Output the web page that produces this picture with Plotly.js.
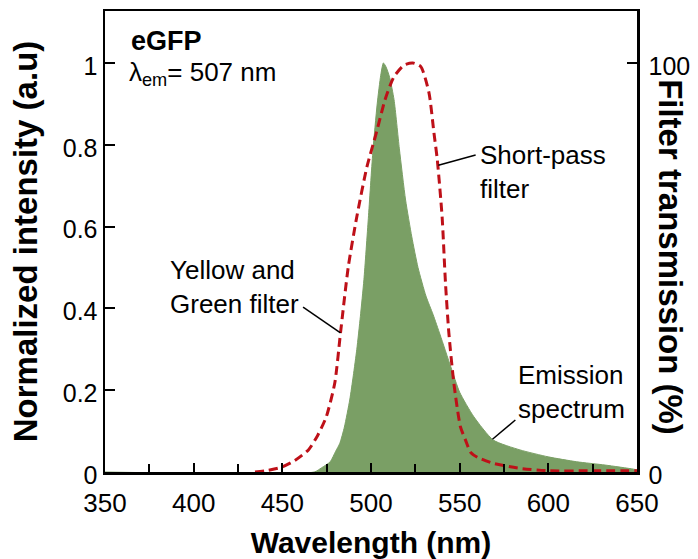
<!DOCTYPE html>
<html>
<head>
<meta charset="utf-8">
<script src="https://cdn.plot.ly/plotly-3.0.1.min.js"></script>
<style>
  html, body { margin: 0; padding: 0; background: #ffffff; }
  #chart { width: 698px; height: 559px; }
</style>
</head>
<body>
<div id="chart"></div>
<script>
// eGFP emission spectrum (normalized) and combined filter transmission
const emWavelength = [350, 468, 472, 477, 480, 482.4, 485, 488, 490, 492, 494, 496, 498.5, 501, 503.5, 505.5, 507, 508.5, 510.5, 513, 516, 519.5, 523, 526.5, 531, 535, 539, 545, 550, 558, 569, 584, 600, 616, 632, 648, 650];
const emIntensity  = [0, 0, 0.01, 0.025, 0.05, 0.07, 0.11, 0.176, 0.235, 0.30, 0.38, 0.47, 0.62, 0.78, 0.90, 0.97, 1.0, 0.99, 0.965, 0.91, 0.79, 0.665, 0.575, 0.50, 0.43, 0.385, 0.335, 0.257, 0.195, 0.135, 0.078, 0.054, 0.037, 0.025, 0.017, 0.007, 0.005];

const filterWavelength   = [434.6, 442, 449.6, 457, 464.7, 470, 474.8, 479.6, 482.8, 487.2, 492, 497.7, 503, 507.9, 512.9, 518.7, 523.6, 528.1, 532.7, 535.5, 537.4, 540.1, 542, 543.9, 546.7, 550.4, 553.3, 556.2, 560, 569, 584, 600, 625, 650];
const filterTransmission = [0, 0.4, 1.2, 2.8, 5.4, 9, 13.5, 21.8, 34, 50.2, 62.4, 74.6, 82.9, 91, 96.6, 99.5, 100, 99.1, 92.7, 82.9, 76.3, 62.4, 46.2, 34, 21.8, 11.1, 7.8, 4.8, 3.6, 2.1, 0.9, 0.3, 0.3, 0.3];

const xTicks  = [350, 400, 450, 500, 550, 600, 650];
const yTicks  = [0, 0.2, 0.4, 0.6, 0.8, 1];
const y2Ticks = [0, 100];

const FONT = 'Liberation Sans, Arial, sans-serif';
const INK = '#000000';

const traces = [
  {
    x: emWavelength, y: emIntensity,
    type: 'scatter', mode: 'lines',
    fill: 'tozeroy', fillcolor: 'rgb(122,159,101)',
    line: { color: 'rgb(122,159,101)', width: 1, shape: 'spline', smoothing: 0.6 },
    hoverinfo: 'skip', showlegend: false
  },
  {
    x: filterWavelength, y: filterTransmission,
    yaxis: 'y2',
    type: 'scatter', mode: 'lines',
    line: { color: 'rgb(190,16,24)', width: 3, dash: '9px,5px', shape: 'spline', smoothing: 0.6 },
    hoverinfo: 'skip', showlegend: false
  }
];

const layout = {
  width: 698, height: 559,
  margin: { l: 105, r: 61, t: 11, b: 87 },
  paper_bgcolor: '#ffffff', plot_bgcolor: '#ffffff',
  font: { family: FONT, color: INK, size: 25 },
  showlegend: false,
  xaxis: {
    range: [350, 650],
    tickvals: xTicks,
    ticks: 'inside', ticklen: 9, tickwidth: 2, tickcolor: INK,
    minor: { dtick: 25, tick0: 350, ticks: 'inside', ticklen: 8, tickwidth: 2, tickcolor: INK, showgrid: false },
    showline: true, linewidth: 2.5, linecolor: INK, mirror: true,
    showgrid: false, zeroline: false,
    ticklabelstandoff: 6,
    tickfont: { family: FONT, size: 26, color: INK },
    title: { text: '<b>Wavelength (nm)</b>', font: { family: FONT, size: 30, color: INK }, standoff: 19 }
  },
  yaxis: {
    range: [0, 1.127],
    tickvals: yTicks,
    ticktext: yTicks.map(v => String(v)),
    ticks: 'inside', ticklen: 10, tickwidth: 2, tickcolor: INK,
    showline: true, linewidth: 2.5, linecolor: INK,
    showgrid: false, zeroline: false,
    ticklabelshift: 3,
    tickfont: { family: FONT, size: 25, color: INK },
    title: { text: '<b>Normalized intensity (a.u)</b>', font: { family: FONT, size: 33, color: INK }, standoff: 15 }
  },
  yaxis2: {
    overlaying: 'y', side: 'right',
    range: [0, 112.7],
    tickvals: y2Ticks,
    ticks: 'inside', ticklen: 10, tickwidth: 2, tickcolor: INK,
    showline: true, linewidth: 2.5, linecolor: INK,
    showgrid: false, zeroline: false,
    ticklabelshift: 3,
    ticklabelstandoff: 4,
    tickfont: { family: FONT, size: 25, color: INK }
  },
  shapes: [
    // leader lines from labels to curves
    { type: 'line', xref: 'x', yref: 'y2', x0: 538, y0: 75, x1: 559, y1: 77.5, line: { color: INK, width: 1.5 } },
    { type: 'line', xref: 'x', yref: 'y2', x0: 482.8, y0: 34, x1: 461.7, y1: 40.3, line: { color: INK, width: 1.5 } },
    { type: 'line', xref: 'x', yref: 'y', x0: 568.5, y0: 0.08, x1: 581.4, y1: 0.127, line: { color: INK, width: 1.5 } }
  ],
  annotations: [
    { xref: 'paper', yref: 'paper', x: 0.045, y: 0.935, xanchor: 'left', yanchor: 'middle',
      text: '<b>eGFP</b>', showarrow: false, font: { family: FONT, size: 27, color: INK } },
    { xref: 'paper', yref: 'paper', x: 0.042, y: 0.8655, xanchor: 'left', yanchor: 'middle',
      text: 'λ<sub>em</sub>= 507 nm', showarrow: false, font: { family: FONT, size: 26, color: INK } },
    { xref: 'x', yref: 'y2', x: 560.5, y: 73.3, xanchor: 'left', yanchor: 'middle', align: 'left',
      text: 'Short-pass<br>filter', showarrow: false, font: { family: FONT, size: 26, color: INK } },
    { xref: 'x', yref: 'y', x: 460.8, y: 0.4535, xanchor: 'right', yanchor: 'middle', align: 'left',
      text: 'Yellow and<br>Green filter', showarrow: false, font: { family: FONT, size: 26, color: INK } },
    { xref: 'x', yref: 'y', x: 582, y: 0.196, xanchor: 'left', yanchor: 'middle', align: 'left',
      text: 'Emission<br>spectrum', showarrow: false, font: { family: FONT, size: 26, color: INK } },
    { xref: 'paper', yref: 'paper', x: 1.064, y: 0.466, xanchor: 'center', yanchor: 'middle',
      text: '<b>Filter transmission (%)</b>', textangle: 90, showarrow: false,
      font: { family: FONT, size: 33, color: INK } }
  ]
};

Plotly.newPlot('chart', traces, layout, { displayModeBar: false, staticPlot: true });
</script>
</body>
</html>
